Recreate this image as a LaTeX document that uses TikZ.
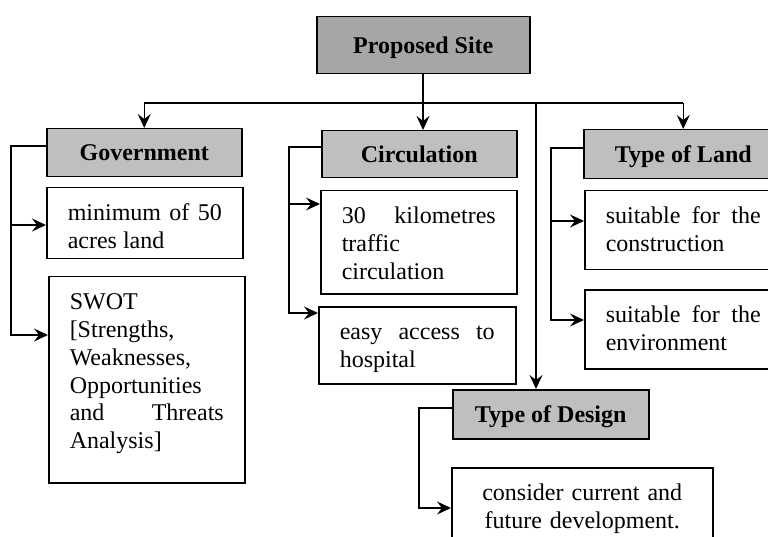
\documentclass[tikz,border=0pt]{standalone}
\usepackage{fontspec}
\setmainfont{Liberation Serif}
\usetikzlibrary{arrows.meta}
\definecolor{darkbox}{RGB}{166,166,166}
\definecolor{lightbox}{RGB}{191,191,191}
\hbadness=10000
\begin{document}
\begin{tikzpicture}[x=1pt,y=-1pt,
  head/.style={draw=black,line width=1.5pt,fill=#1,inner sep=0pt,anchor=north west,
    font=\fontsize{24pt}{27.8pt}\selectfont\bfseries,text height=16pt,text depth=0pt,align=center},
  txt/.style={draw=black,line width=1.5pt,fill=white,inner xsep=21pt,inner ysep=0pt,anchor=north west,
    font=\fontsize{24pt}{27.8pt}\selectfont,text width=154pt,align=justify,text height=33pt},
  conn/.style={line width=1.4pt},
  arr/.style={line width=1.4pt,-{Stealth[length=14pt,width=13pt,inset=5pt]}}]
\useasboundingbox (0,0) rectangle (768,537);
\clip (0,0) rectangle (768,537);
% header boxes
\node[head=darkbox,minimum width=213pt,minimum height=57pt] (prop) at (316,16) {Proposed Site};
\node[head=lightbox,minimum width=195pt,minimum height=48pt] (gov) at (46,128) {Government};
\node[head=lightbox,minimum width=195pt,minimum height=47pt] (circ) at (321,130) {Circulation};
\node[head=lightbox,minimum width=199pt,minimum height=49pt] (land) at (583,129) {Type of Land};
\node[head=lightbox,minimum width=196pt,minimum height=49pt] (design) at (452,389) {Type of Design};
% text boxes
\node[txt,text depth=38pt] (mini) at (46,187) {minimum of 50\linebreak acres land};
\node[txt,text depth=173pt] (swot) at (48,276) {SWOT\newline [Strengths,\newline Weaknesses,\newline Opportunities\newline and Threats\linebreak Analysis]};
\node[txt,text depth=70pt] (km) at (320,190) {30 kilometres\linebreak traffic\newline circulation};
\node[txt,text depth=44pt,text width=155pt] (easy) at (318,306) {easy access to\linebreak hospital};
\node[txt,text depth=46pt,text width=155pt] (cons) at (584,190) {suitable for the\linebreak construction};
\node[txt,text depth=46pt,text width=155pt] (env) at (584,289) {suitable for the\linebreak environment};
\node[txt,text depth=60pt,text width=219pt,align=center] (fut) at (451,467) {consider current and\\ future development.};
% main connectors
\coordinate (bus) at (423,103);
\coordinate (dtop) at (536,103);
\draw[arr] (prop.south -| bus) -- (bus |- circ.north);
\draw[conn] (bus -| gov.north) -- (bus -| land.north);
\draw[arr] (bus -| gov.north) -- (gov.north);
\draw[arr] (bus -| land.north) -- (land.north);
\draw[arr] (dtop) -- (dtop |- design.north);
% government bracket
\coordinate (gb) at (11,146);
\coordinate (g1) at (11,225);
\coordinate (g2) at (11,335);
\draw[arr] (gov.west |- gb) -- (gb) -- (g2) -- (g2 -| swot.west);
\draw[arr] (g1) -- (g1 -| mini.west);
% circulation bracket
\coordinate (cb) at (289,147);
\coordinate (c1) at (289,204);
\coordinate (c2) at (289,313);
\draw[arr] (circ.west |- cb) -- (cb) -- (c2) -- (c2 -| easy.west);
\draw[arr] (c1) -- (c1 -| km.west);
% land bracket
\coordinate (lb) at (551,148);
\coordinate (l1) at (551,221);
\coordinate (l2) at (551,320);
\draw[arr] (land.west |- lb) -- (lb) -- (l2) -- (l2 -| env.west);
\draw[arr] (l1) -- (l1 -| cons.west);
% design bracket
\coordinate (db) at (419,408);
\coordinate (d1) at (419,508);
\draw[arr] (design.west |- db) -- (db) -- (d1) -- (d1 -| fut.west);
\end{tikzpicture}
\end{document}
